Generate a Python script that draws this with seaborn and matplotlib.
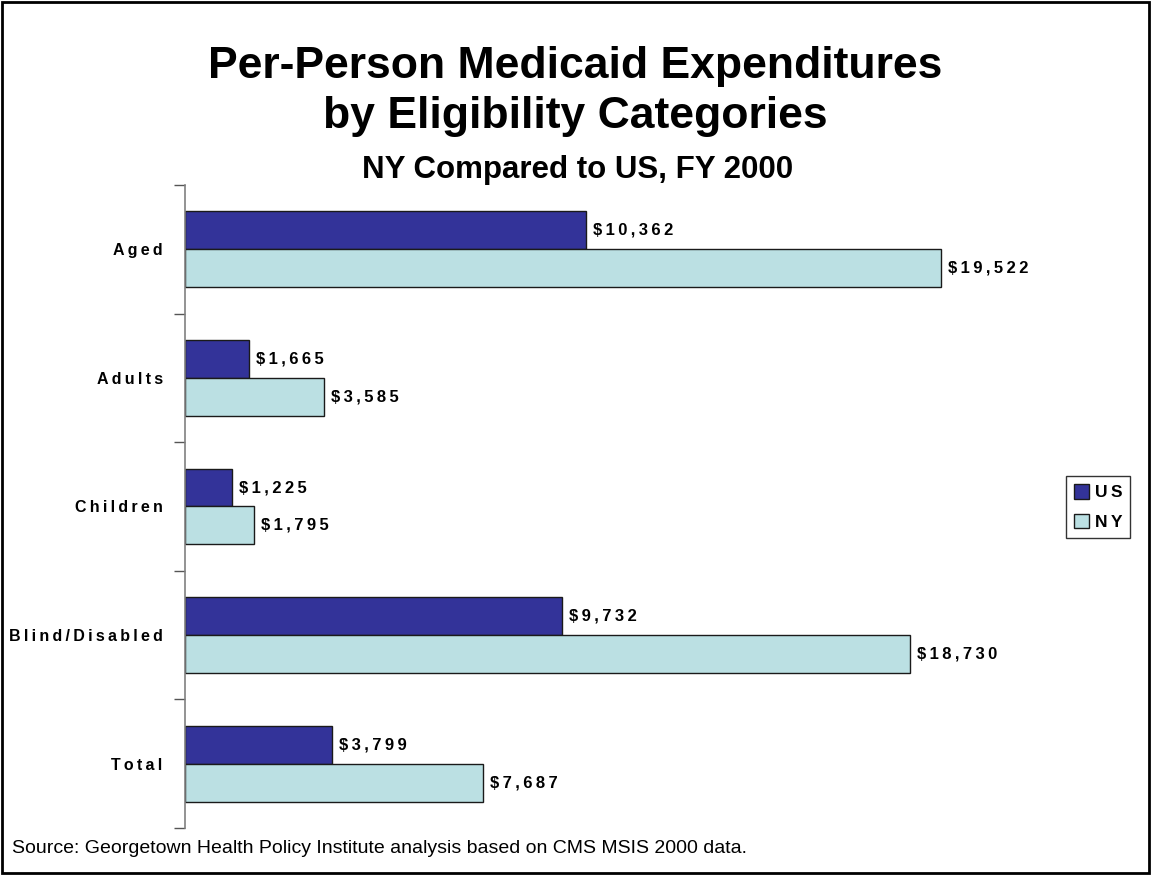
import matplotlib
matplotlib.use("Agg")
import matplotlib.pyplot as plt
from matplotlib.patches import Rectangle
import pandas as pd
import seaborn as sns

# Per-person Medicaid spending, FY 2000
categories = ["Aged", "Adults", "Children", "Blind/Disabled", "Total"]
us_values = [10362, 1665, 1225, 9732, 3799]
ny_values = [19522, 3585, 1795, 18730, 7687]
regions = ["US", "NY"]
region_colors = ["#333399", "#BBE0E3"]

title_text = "Per-Person Medicaid Expenditures\nby Eligibility Categories"
subtitle_text = "NY Compared to US, FY 2000"
source_text = "Source: Georgetown Health Policy Institute analysis based on CMS MSIS 2000 data."

df = pd.DataFrame({
    "category": categories * 2,
    "value": us_values + ny_values,
    "region": ["US"] * len(categories) + ["NY"] * len(categories),
})

sns.set_theme(style="white")
plt.rcParams["font.family"] = ["Liberation Sans", "DejaVu Sans"]
plt.rcParams["text.color"] = "black"

SP = "\u2009"


def spaced(s):
    # widen letter spacing the way the labels are set
    return SP.join(s)


fig = plt.figure(figsize=(11.51, 8.75), dpi=100)
ax = fig.add_axes([0.1607, 0.0537, 0.7403, 0.7349])

sns.barplot(
    data=df, y="category", x="value", hue="region",
    order=categories, hue_order=regions, palette=region_colors,
    orient="h", width=0.59, edgecolor="#1a1a1a", linewidth=1.0,
    saturation=1, ax=ax,
)

ax.set_xlim(0, 22000)
ax.set_ylim(len(categories) - 0.5, -0.5)
ax.set_xlabel("")
ax.set_ylabel("")
ax.set_xticks([])

# category labels, tick marks sit between groups
ax.set_yticks(range(len(categories)))
ax.set_yticklabels([spaced(c) for c in categories], fontsize=11.5,
                   fontweight="bold", color="black")
ax.set_yticks([i - 0.5 for i in range(len(categories) + 1)], minor=True)
ax.tick_params(axis="y", which="major", length=0, pad=16)
ax.tick_params(axis="y", which="minor", length=8, width=1, color="#555555", left=True)

for side in ["top", "right", "bottom"]:
    ax.spines[side].set_visible(False)
ax.spines["left"].set_color("#808080")
ax.spines["left"].set_linewidth(1.2)

# value labels at the end of each bar
for container in ax.containers:
    labels = [spaced(f"${v:,.0f}") for v in container.datavalues]
    ax.bar_label(container, labels=labels, padding=5, fontsize=12,
                 fontweight="bold", color="black")

handles, _ = ax.get_legend_handles_labels()
leg = ax.legend(
    handles, [spaced(r) for r in regions],
    loc="center left", bbox_to_anchor=(1066 / 1151, 1 - 507 / 875),
    bbox_transform=fig.transFigure, frameon=True, fancybox=False,
    edgecolor="black", prop={"weight": "bold", "size": 12.5},
    handlelength=0.9, handleheight=0.9, handletextpad=0.3,
    borderpad=0.45, labelspacing=0.75, borderaxespad=0,
)
leg.get_frame().set_linewidth(1.0)

fig.text(0.5, 0.947, title_text, ha="center", va="top", fontsize=32,
         fontweight="bold", linespacing=1.26)
fig.text(0.502, 1 - 178 / 875, subtitle_text, ha="center", va="baseline",
         fontsize=22.5, fontweight="bold")
fig.text(12 / 1151, 1 - 853 / 875, source_text, ha="left", va="baseline",
         fontsize=14)

fig.patches.append(Rectangle((0.002, 0.002), 0.996, 0.996, transform=fig.transFigure,
                             fill=False, edgecolor="black", linewidth=2))

fig.savefig("out.png", dpi=100)
